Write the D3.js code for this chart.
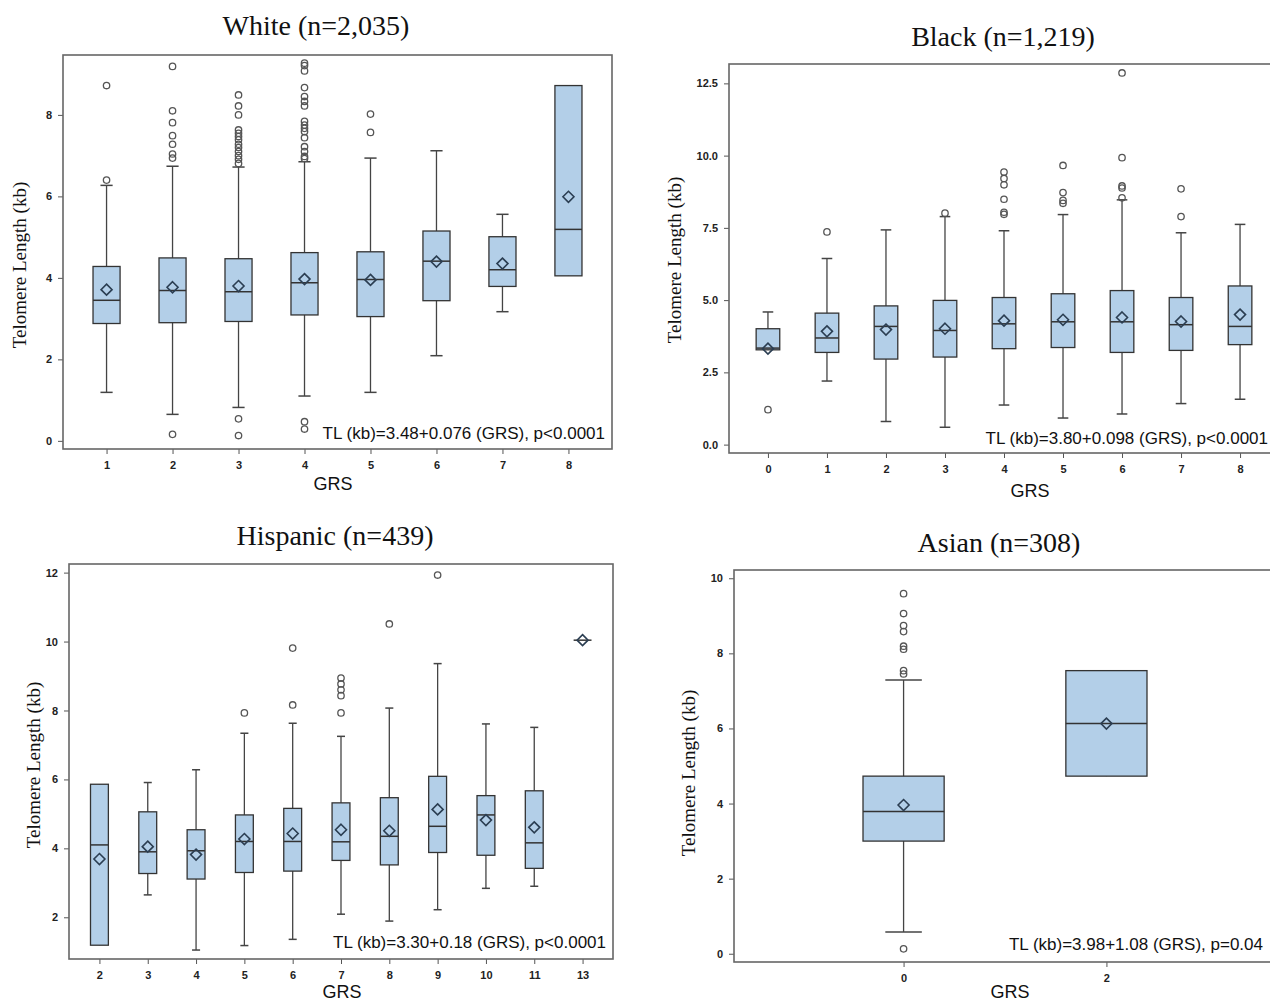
<!DOCTYPE html>
<html>
<head>
<meta charset="utf-8">
<script src="https://cdn.jsdelivr.net/npm/d3@7"></script>
<style>
  body { margin: 0; background: #fff; }
  .tick text { font-family: "Liberation Sans Narrow", "Liberation Sans", Arial, sans-serif; font-weight: bold; font-size: 11px; fill: #222; }
  .tick line { stroke: #555; }
  .domain { display: none; }
  .title, .ylab { font-family: "Liberation Serif", "Times New Roman", serif; fill: #111; }
  .xlab, .note { font-family: "Liberation Sans", Arial, sans-serif; fill: #111; }
</style>
</head>
<body>
<svg class="svg-chart" width="1270" height="1001"></svg>
<script>
// each box row: [GRS, lowWhisker, Q1, median, Q3, highWhisker, mean]
var whiteBoxes = [
  [1, 1.19, 2.88, 3.45, 4.28, 6.27, 3.71],
  [2, 0.65, 2.90, 3.69, 4.49, 6.74, 3.77],
  [3, 0.82, 2.93, 3.66, 4.47, 6.72, 3.80],
  [4, 1.10, 3.09, 3.88, 4.62, 6.85, 3.97],
  [5, 1.19, 3.05, 3.96, 4.64, 6.94, 3.95],
  [6, 2.09, 3.44, 4.41, 5.15, 7.12, 4.40],
  [7, 3.17, 3.79, 4.20, 5.01, 5.56, 4.35],
  [8, 4.05, 4.05, 5.19, 8.72, 8.72, 5.99]
];
var whiteOutliers = [
  [1, 6.40], [1, 8.72],
  [2, 9.19], [2, 8.10], [2, 7.81], [2, 7.49], [2, 7.28], [2, 7.04], [2, 6.94], [2, 0.16],
  [3, 8.49], [3, 8.22], [3, 8.00], [3, 7.63], [3, 7.55], [3, 7.47], [3, 7.39], [3, 7.28],
  [3, 7.20], [3, 7.10], [3, 7.00], [3, 6.91], [3, 6.81], [3, 0.54], [3, 0.13],
  [4, 9.27], [4, 9.21], [4, 9.08], [4, 8.67], [4, 8.45], [4, 8.33], [4, 8.22], [4, 7.84],
  [4, 7.75], [4, 7.67], [4, 7.59], [4, 7.44], [4, 7.22], [4, 7.10], [4, 6.98], [4, 6.93],
  [4, 0.47], [4, 0.29],
  [5, 8.02], [5, 7.57]
];

var blackBoxes = [
  [0, 3.28, 3.28, 3.34, 4.01, 4.59, 3.32],
  [1, 2.20, 3.19, 3.69, 4.55, 6.44, 3.92],
  [2, 0.80, 2.96, 4.09, 4.80, 7.43, 3.98],
  [3, 0.60, 3.03, 3.95, 4.99, 7.89, 4.01],
  [4, 1.37, 3.32, 4.18, 5.09, 7.40, 4.29],
  [5, 0.92, 3.36, 4.25, 5.22, 7.96, 4.32],
  [6, 1.06, 3.19, 4.25, 5.33, 8.47, 4.40],
  [7, 1.42, 3.26, 4.15, 5.09, 7.33, 4.26],
  [8, 1.57, 3.46, 4.09, 5.49, 7.62, 4.50]
];
var blackOutliers = [
  [0, 1.21], [1, 7.36], [3, 8.01],
  [4, 9.43], [4, 9.21], [4, 8.99], [4, 8.49], [4, 8.04], [4, 7.97],
  [5, 9.66], [5, 8.72], [5, 8.45], [5, 8.35],
  [6, 12.86], [6, 9.93], [6, 8.95], [6, 8.88], [6, 8.54],
  [7, 8.85], [7, 7.89]
];

var hispanicBoxes = [
  [2, 1.19, 1.19, 4.10, 5.86, 5.86, 3.69],
  [3, 2.65, 3.27, 3.90, 5.06, 5.91, 4.05],
  [4, 1.05, 3.11, 3.93, 4.54, 6.28, 3.82],
  [5, 1.18, 3.30, 4.20, 4.97, 7.34, 4.27],
  [6, 1.36, 3.34, 4.20, 5.16, 7.63, 4.43],
  [7, 2.09, 3.65, 4.19, 5.32, 7.25, 4.54],
  [8, 1.89, 3.52, 4.35, 5.47, 8.07, 4.51],
  [9, 2.22, 3.88, 4.64, 6.09, 9.36, 5.13],
  [10, 2.84, 3.80, 4.97, 5.53, 7.61, 4.82],
  [11, 2.90, 3.42, 4.16, 5.67, 7.51, 4.61],
  [13, 10.04, 10.04, 10.04, 10.04, 10.04, 10.04]
];
var hispanicOutliers = [
  [5, 7.93], [6, 8.16], [6, 9.81],
  [7, 8.94], [7, 8.77], [7, 8.60], [7, 8.43], [7, 7.93],
  [8, 10.51], [9, 11.93]
];

var asianBoxes = [
  [0, 0.58, 3.00, 3.79, 4.73, 7.29, 3.96],
  [2, 4.73, 4.73, 6.13, 7.54, 7.54, 6.13]
];
var asianOutliers = [
  [0, 9.59], [0, 9.06], [0, 8.74], [0, 8.58], [0, 8.19], [0, 8.11], [0, 7.54], [0, 7.45], [0, 0.13]
];

var panels = [
  { title: "White (n=2,035)", boxes: whiteBoxes, outliers: whiteOutliers,
    note: "TL (kb)=3.48+0.076 (GRS), p<0.0001",
    frame: [63, 55, 612, 449], yDomain: [-0.2, 9.47], yTicks: [0, 2, 4, 6, 8], yFmt: "d",
    pad: 0.66, boxFrac: 0.41, titleXY: [316, 35], ylabXY: [26, 265], xlabXY: [333, 490], noteXY: [605, 439] },
  { title: "Black (n=1,219)", boxes: blackBoxes, outliers: blackOutliers,
    note: "TL (kb)=3.80+0.098 (GRS), p<0.0001",
    frame: [729, 64, 1279, 453], yDomain: [-0.29, 13.17], yTicks: [0, 2.5, 5, 7.5, 10, 12.5], yFmt: ".1f",
    pad: 0.66, boxFrac: 0.40, titleXY: [1003, 46], ylabXY: [681, 260], xlabXY: [1030, 497], noteXY: [1268, 444] },
  { title: "Hispanic (n=439)", boxes: hispanicBoxes, outliers: hispanicOutliers,
    note: "TL (kb)=3.30+0.18 (GRS), p<0.0001",
    frame: [69, 564, 613, 959], yDomain: [0.79, 12.25], yTicks: [2, 4, 6, 8, 10, 12], yFmt: "d",
    pad: 0.63, boxFrac: 0.37, titleXY: [335, 545], ylabXY: [40, 765], xlabXY: [342, 998], noteXY: [606, 948] },
  { title: "Asian (n=308)", boxes: asianBoxes, outliers: asianOutliers,
    note: "TL (kb)=3.98+1.08 (GRS), p=0.04",
    frame: [734, 570, 1276, 962], yDomain: [-0.22, 10.22], yTicks: [0, 2, 4, 6, 8, 10], yFmt: "d",
    pad: 0.836, boxFrac: 0.40, titleXY: [999, 552], ylabXY: [695, 773], xlabXY: [1010, 998], noteXY: [1263, 950] }
];

var svg = d3.select(".svg-chart");

function drawPanel(p) {
  var f = p.frame;
  var g = svg.append("g");

  var x = d3.scalePoint()
    .domain(p.boxes.map(function (d) { return d[0]; }))
    .range([f[0], f[2]])
    .padding(p.pad);
  var y = d3.scaleLinear().domain(p.yDomain).range([f[3], f[1]]);

  var bw = x.step() * p.boxFrac;
  var cap = bw * 0.45;

  // axes
  g.append("g")
    .attr("transform", "translate(0," + f[3] + ")")
    .call(d3.axisBottom(x).tickSize(5).tickPadding(7));
  g.append("g")
    .attr("transform", "translate(" + f[0] + ",0)")
    .call(d3.axisLeft(y).tickValues(p.yTicks).tickFormat(d3.format(p.yFmt)).tickSize(5).tickPadding(6));

  g.append("rect")
    .attr("x", f[0]).attr("y", f[1])
    .attr("width", f[2] - f[0]).attr("height", f[3] - f[1])
    .attr("fill", "none").attr("stroke", "#666").attr("stroke-width", 1.6);

  var box = g.selectAll(".box").data(p.boxes).enter().append("g").attr("class", "box");

  // whiskers
  box.append("line")
    .attr("x1", function (d) { return x(d[0]); }).attr("x2", function (d) { return x(d[0]); })
    .attr("y1", function (d) { return y(d[5]); }).attr("y2", function (d) { return y(d[1]); })
    .attr("stroke", "#444").attr("stroke-width", 1.3);
  [1, 5].forEach(function (k) {
    box.filter(function (d) { return d[k] !== d[k === 1 ? 2 : 4]; })
      .append("line")
      .attr("x1", function (d) { return x(d[0]) - cap / 2; })
      .attr("x2", function (d) { return x(d[0]) + cap / 2; })
      .attr("y1", function (d) { return y(d[k]); }).attr("y2", function (d) { return y(d[k]); })
      .attr("stroke", "#444").attr("stroke-width", 1.5);
  });

  box.append("rect")
    .attr("x", function (d) { return x(d[0]) - bw / 2; })
    .attr("y", function (d) { return y(d[4]); })
    .attr("width", bw)
    .attr("height", function (d) { return y(d[2]) - y(d[4]); })
    .attr("fill", "#b3cfe8").attr("stroke", "#333").attr("stroke-width", 1.3);

  box.append("line")
    .attr("x1", function (d) { return x(d[0]) - bw / 2; })
    .attr("x2", function (d) { return x(d[0]) + bw / 2; })
    .attr("y1", function (d) { return y(d[3]); }).attr("y2", function (d) { return y(d[3]); })
    .attr("stroke", "#333").attr("stroke-width", 1.5);

  // mean diamonds
  box.append("path")
    .attr("d", function (d) {
      var cx = x(d[0]), cy = y(d[6]), r = 5.5;
      return "M" + cx + "," + (cy - r) + "L" + (cx + r) + "," + cy + "L" + cx + "," + (cy + r) + "L" + (cx - r) + "," + cy + "Z";
    })
    .attr("fill", "none").attr("stroke", "#2b3e52").attr("stroke-width", 1.6);

  g.selectAll(".outlier").data(p.outliers).enter().append("circle")
    .attr("class", "outlier")
    .attr("cx", function (d) { return x(d[0]); })
    .attr("cy", function (d) { return y(d[1]); })
    .attr("r", 3.2)
    .attr("fill", "none").attr("stroke", "#555").attr("stroke-width", 1.3);

  // texts
  svg.append("text").attr("class", "title")
    .attr("x", p.titleXY[0]).attr("y", p.titleXY[1])
    .attr("text-anchor", "middle").style("font-size", "28px")
    .text(p.title);
  svg.append("text").attr("class", "ylab")
    .attr("transform", "translate(" + p.ylabXY[0] + "," + p.ylabXY[1] + ") rotate(-90)")
    .attr("text-anchor", "middle").style("font-size", "19px")
    .text("Telomere Length (kb)");
  svg.append("text").attr("class", "xlab")
    .attr("x", p.xlabXY[0]).attr("y", p.xlabXY[1])
    .attr("text-anchor", "middle").style("font-size", "18px")
    .text("GRS");
  svg.append("text").attr("class", "note")
    .attr("x", p.noteXY[0]).attr("y", p.noteXY[1])
    .attr("text-anchor", "end").style("font-size", "17px")
    .text(p.note);
}

panels.forEach(drawPanel);
</script>
</body>
</html>
